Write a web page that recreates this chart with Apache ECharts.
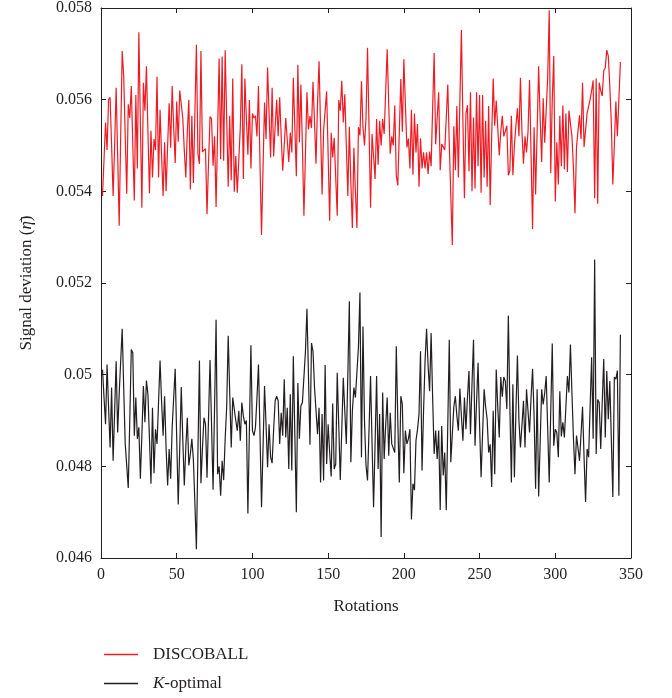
<!DOCTYPE html>
<html>
<head>
<meta charset="utf-8">
<script src="https://cdn.jsdelivr.net/npm/echarts@6/dist/echarts.min.js"></script>
<style>
  html, body { margin: 0; padding: 0; background: #fff; }
  #chart { width: 672px; height: 698px; }
</style>
</head>
<body>
<div id="chart"></div>
<script>
// signal deviation, in units of 10^-3, one value per rotation (1..343)
var discoball = [
  53.9, 54.7, 55.5, 54.9, 56.0, 56.05, 55.0, 53.9, 55.0, 56.26, 54.8, 53.25, 55.2, 57.06, 56.5, 55.2, 53.95, 55.9, 55.6, 56.3,
  55.0, 53.8, 56.1, 54.5, 57.47, 55.5, 53.64, 56.37, 55.76, 56.73, 55.3, 53.96, 55.32, 54.3, 55.14, 54.9, 56.5, 54.3, 55.78, 54.8,
  53.9, 55.07, 54.0, 55.0, 55.92, 54.95, 56.3, 55.4, 54.62, 55.96, 55.08, 56.2, 55.9, 55.6, 54.9, 54.3, 55.3, 56.0,
  54.04, 55.65, 54.18, 55.7, 57.2, 54.82, 54.6, 57.06, 54.86, 54.82, 54.93, 53.5, 54.6, 55.63, 55.58, 54.56, 55.2, 53.66, 55.3, 56.9,
  54.7, 56.94, 54.67, 57.08, 55.6, 54.1, 55.65, 54.24, 56.46, 53.99, 54.77, 53.97, 54.0, 55.4, 56.77, 54.27, 56.46, 55.6, 54.8, 55.99,
  54.5, 55.7, 55.6, 55.65, 55.2, 56.3, 54.6, 53.05, 54.5, 55.94, 55.14, 56.7, 55.7, 54.74, 56.26, 54.76, 55.4, 56.0, 55.2,
  56.05, 55.2, 54.45, 55.0, 55.6, 55.58, 54.64, 55.28, 54.85, 56.48, 55.4, 54.33, 56.76, 55.07, 56.33, 55.0, 53.47, 54.8, 56.16, 55.35,
  55.64, 55.38, 56.39, 55.5, 54.6, 55.94, 56.84, 55.4, 53.93, 55.33, 55.35, 56.18, 54.8, 53.36, 55.28, 54.74, 55.17, 54.3, 53.47, 55.99,
  55.76, 56.41, 55.5, 56.12, 55.0, 53.9, 55.41, 54.2, 53.2, 54.95, 54.0, 53.2, 55.4, 55.22, 56.4, 55.4, 55.0, 55.6,
  57.13, 55.4, 53.64, 55.25, 55.28, 54.27, 55.58, 54.58, 55.54, 55.0, 55.58, 55.25, 56.2, 57.1, 55.9, 54.82, 55.2, 55.0, 55.87, 54.35,
  54.13, 55.3, 56.45, 55.3, 56.88, 55.9, 54.96, 55.15, 54.5, 55.78, 54.36, 55.7, 54.85, 55.47, 54.1, 55.16, 54.5, 54.85, 54.5, 54.85,
  54.38, 54.87, 54.55, 55.8, 57.02, 55.03, 55.6, 56.16, 54.46, 55.03, 55.0, 54.9, 55.6, 56.33, 55.03, 53.9, 52.83, 55.42,
  54.46, 55.86, 54.3, 56.0, 57.52, 55.5, 53.85, 55.7, 55.88, 54.44, 56.16, 54.0, 55.61, 54.06, 56.16, 54.55, 56.1, 53.97, 56.1, 54.3,
  55.54, 54.1, 55.86, 53.7, 55.2, 56.46, 55.43, 55.98, 55.4, 54.78, 55.3, 55.65, 55.2, 55.18, 55.43, 54.35, 54.45, 55.65, 54.35, 55.0,
  55.43, 55.81, 55.2, 56.48, 55.3, 54.6, 55.2, 54.85, 55.3, 56.43, 54.8, 53.18, 55.4, 53.93, 55.3, 56.73, 55.6, 54.64,
  56.03, 55.06, 55.07, 56.5, 57.95, 54.4, 56.0, 56.95, 53.78, 55.07, 54.15, 55.65, 54.55, 55.87, 54.48, 55.7, 54.42, 55.76, 55.78, 55.2,
  54.5, 53.52, 54.96, 55.32, 55.66, 55.14, 56.37, 54.97, 54.93, 55.7, 55.67, 56.0, 56.2, 56.42, 53.85, 56.46, 53.73, 56.37, 56.2, 56.08,
  56.63, 56.7, 57.08, 56.95, 56.3, 55.5, 54.15, 55.0, 55.96, 55.2, 56.0, 56.82
];

var kOptimal = [
  50.11, 49.5, 48.92, 50.22, 49.3, 48.41, 49.72, 48.12, 49.2, 50.29, 48.74, 49.57, 50.3, 51.0, 49.7, 48.49, 48.45, 47.53, 49.0, 50.55,
  50.48, 48.67, 49.5, 48.6, 48.85, 47.73, 48.7, 49.75, 48.96, 49.87, 49.57, 48.6, 47.62, 49.28, 47.85, 48.81, 48.49, 49.4, 50.31, 49.43,
  48.67, 49.53, 48.38, 47.58, 48.38, 47.73, 48.85, 49.5, 50.13, 48.6, 47.17, 48.4, 49.73, 48.6, 47.58, 48.41, 49.06, 48.02,
  48.27, 48.6, 48.15, 47.2, 46.19, 48.3, 50.31, 47.63, 48.4, 49.06, 48.92, 47.75, 49.03, 50.32, 48.9, 47.49, 49.3, 51.2, 47.83, 48.0,
  47.36, 48.12, 47.7, 48.6, 49.3, 50.85, 49.6, 48.41, 49.5, 49.46, 49.0, 48.78, 49.21, 48.56, 49.39, 49.1, 48.92, 49.0, 46.97, 48.8,
  50.64, 48.78, 48.67, 48.85, 49.5, 50.22, 48.7, 47.11, 48.4, 49.75, 48.9, 47.98, 48.92, 48.2, 48.07, 48.8, 49.43, 49.53, 49.43,
  48.49, 49.17, 48.67, 49.9, 48.63, 49.28, 47.94, 49.57, 47.91, 50.4, 48.7, 47.0, 49.82, 48.6, 49.32, 49.39, 49.43, 50.5, 51.44, 50.0,
  48.47, 50.69, 50.51, 49.72, 49.68, 48.7, 49.28, 47.65, 49.14, 47.69, 50.21, 48.05, 48.92, 48.3, 47.78, 49.37, 47.94, 48.05, 50.04, 48.9,
  47.7, 48.8, 49.93, 49.2, 48.49, 50.0, 51.6, 48.09, 49.21, 49.72, 49.5, 49.5, 50.6, 51.79, 48.2, 51.05, 49.0, 48.02,
  47.69, 48.8, 49.97, 48.5, 47.11, 48.5, 49.97, 47.94, 49.14, 46.46, 49.61, 48.16, 48.9, 49.5, 48.23, 49.17, 48.49, 48.53, 48.3, 50.62,
  49.0, 47.65, 49.53, 49.35, 47.85, 48.78, 48.49, 48.6, 48.81, 46.84, 47.62, 47.48, 48.56, 48.8, 49.14, 50.51, 47.91, 49.2, 50.29, 51.0,
  50.2, 49.64, 50.91, 49.5, 48.27, 48.78, 48.16, 48.78, 47.05, 48.88, 47.8, 48.3, 47.04, 48.9, 50.76, 48.09, 48.7, 49.3,
  49.53, 49.1, 48.78, 49.7, 49.1, 48.56, 49.5, 48.81, 49.5, 50.08, 48.7, 49.8, 50.76, 48.45, 49.4, 50.26, 48.9, 47.76, 47.76, 49.68,
  49.3, 49.03, 48.3, 48.48, 47.55, 49.21, 47.83, 50.11, 49.3, 48.63, 49.95, 49.52, 49.95, 49.86, 49.25, 51.29, 49.32, 47.65, 49.79, 47.76,
  49.2, 50.42, 48.99, 48.41, 48.9, 49.43, 48.41, 49.68, 49.2, 48.74, 49.5, 50.13, 49.1, 47.51, 49.68, 47.34, 48.5, 49.68,
  49.35, 49.6, 49.97, 48.8, 47.65, 49.2, 50.68, 48.45, 48.81, 48.74, 48.2, 49.64, 48.65, 48.96, 48.63, 49.3, 49.97, 49.61, 50.66, 49.6,
  48.6, 47.83, 48.67, 48.4, 48.12, 48.7, 49.3, 48.2, 47.22, 48.38, 48.2, 49.3, 50.38, 48.6, 52.51, 48.27, 49.46, 49.39, 48.38, 49.4,
  50.34, 48.63, 50.08, 49.03, 49.86, 48.6, 47.33, 49.95, 49.9, 50.09, 47.36, 50.87
];

var xTicks = {min: 0, max: 350, step: 50};
var yTicks = {min: 46, max: 58, step: 2};   // x10^-3

var serif = '"Liberation Serif", "DejaVu Serif", serif';
var axisColor = '#231f20';
var redColor = '#ed1c24';

function toPairs(list) {
    return list.map(function (v, i) { return [i + 1, v]; });
}

function yLabel(v) {
    return String(+(v / 1000).toFixed(3));
}

function legendBox(name, top) {
    return {
        left: 104,
        top: top,
        padding: 0,
        icon: 'rect',
        itemWidth: 34,
        itemHeight: 1.3,
        data: [name],
        formatter: function (n) {
            return n === 'K-optimal' ? '{i|K}-optimal' : n;
        },
        textStyle: {
            fontFamily: serif,
            fontSize: 17,
            color: axisColor,
            padding: [0, 0, 0, 10],
            rich: {
                i: {fontFamily: serif, fontSize: 17, fontStyle: 'italic', color: axisColor}
            }
        }
    };
}

var myChart = echarts.init(document.getElementById('chart'));

var frameLine = {show: true, onZero: false, lineStyle: {color: axisColor, width: 1}};
var tickIn = {show: true, inside: true, length: 5, lineStyle: {color: axisColor, width: 1}};

var option = {
    animation: false,
    backgroundColor: '#fff',
    grid: {left: 101, right: 41, top: 5, bottom: 140},
    legend: [legendBox('DISCOBALL', 646), legendBox('K-optimal', 675)],
    xAxis: [
        {
            type: 'value',
            position: 'bottom',
            min: xTicks.min,
            max: xTicks.max,
            interval: xTicks.step,
            name: 'Rotations',
            nameLocation: 'middle',
            nameGap: 40,
            nameTextStyle: {fontFamily: serif, fontSize: 17, color: axisColor},
            axisLine: frameLine,
            axisTick: tickIn,
            splitLine: {show: false},
            axisLabel: {fontFamily: serif, fontSize: 16, color: axisColor, margin: 9}
        },
        {
            type: 'value',
            position: 'top',
            min: xTicks.min,
            max: xTicks.max,
            interval: xTicks.step,
            axisLine: frameLine,
            axisTick: tickIn,
            splitLine: {show: false},
            axisLabel: {show: false}
        }
    ],
    yAxis: [
        {
            type: 'value',
            position: 'left',
            min: yTicks.min,
            max: yTicks.max,
            interval: yTicks.step,
            name: 'Signal deviation ({i|η̄})',
            nameLocation: 'middle',
            nameGap: 66,
            nameTextStyle: {
                fontFamily: serif, fontSize: 17, color: axisColor,
                rich: {i: {fontFamily: serif, fontSize: 17, fontStyle: 'italic', color: axisColor}}
            },
            axisLine: frameLine,
            axisTick: tickIn,
            splitLine: {show: false},
            axisLabel: {fontFamily: serif, fontSize: 16, color: axisColor, margin: 9, formatter: yLabel}
        },
        {
            type: 'value',
            position: 'right',
            min: yTicks.min,
            max: yTicks.max,
            interval: yTicks.step,
            axisLine: frameLine,
            axisTick: tickIn,
            splitLine: {show: false},
            axisLabel: {show: false}
        }
    ],
    series: [
        {
            name: 'DISCOBALL',
            type: 'line',
            xAxisIndex: 0,
            yAxisIndex: 0,
            symbol: 'none',
            lineStyle: {color: redColor, width: 1.2},
            itemStyle: {color: redColor},
            data: toPairs(discoball)
        },
        {
            name: 'K-optimal',
            type: 'line',
            xAxisIndex: 0,
            yAxisIndex: 0,
            symbol: 'none',
            lineStyle: {color: axisColor, width: 1.2},
            itemStyle: {color: axisColor},
            data: toPairs(kOptimal)
        }
    ]
};

myChart.setOption(option);
</script>
</body>
</html>
